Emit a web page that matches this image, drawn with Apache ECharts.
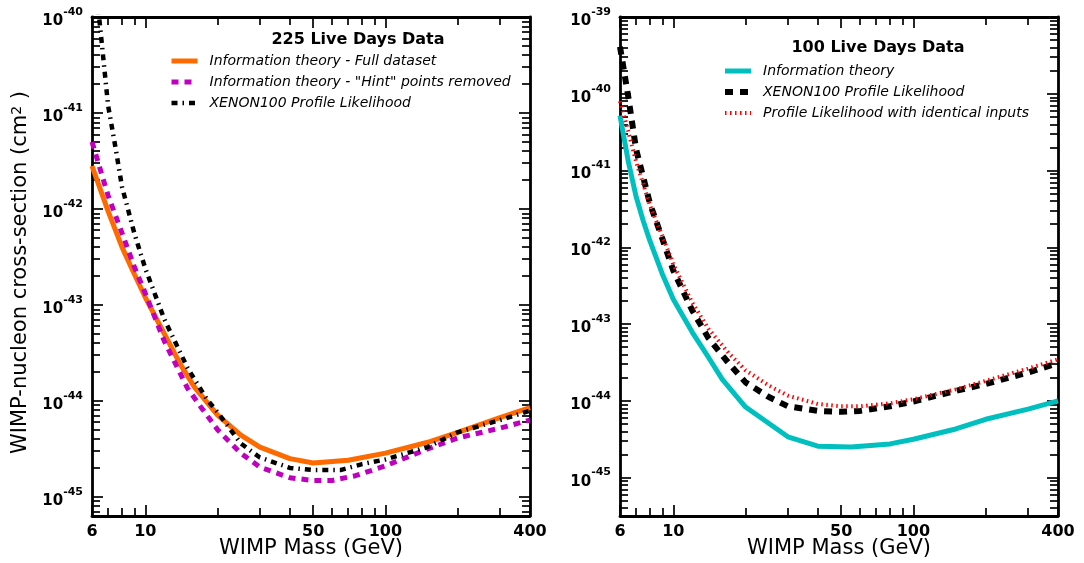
<!DOCTYPE html>
<html><head><meta charset="utf-8">
<script src="https://cdn.jsdelivr.net/npm/echarts@6/dist/echarts.min.js"></script>
<style>html,body{margin:0;padding:0;background:#fff}#c{width:1084px;height:563px}</style>
</head><body><div id="c"></div><script>
// ---- tick labels ----
const massMajorTicks = [6, 10, 50, 100, 400];
const massMinorTicks = [7, 8, 9, 20, 30, 40, 60, 70, 80, 90, 200, 300];
const leftDecades = [1e-45, 1e-44, 1e-43, 1e-42, 1e-41, 1e-40];
const rightDecades = [1e-45, 1e-44, 1e-43, 1e-42, 1e-41, 1e-40, 1e-39];

// ---- left panel: 225 live days ----
const massOrange = [6, 7, 8, 9, 10, 12, 14, 16, 20, 25, 30, 40, 50, 70, 100, 150, 200, 300, 400];
const sigmaOrange = [2.8e-42, 9.5e-43, 4.0e-43, 2.1e-43, 1.2e-43, 5.0e-44, 2.4e-44, 1.4e-44, 7.1e-45, 4.4e-45, 3.3e-45, 2.5e-45, 2.25e-45, 2.4e-45, 2.85e-45, 3.7e-45, 4.7e-45, 6.7e-45, 8.5e-45];

const massMagenta = [6, 7, 8, 9, 10, 12, 15, 17, 20, 25, 30, 40, 50, 60, 75, 100, 150, 200, 300, 400];
const sigmaMagenta = [5.0e-42, 1.38e-42, 5.6e-43, 2.5e-43, 1.32e-43, 4.2e-44, 1.35e-44, 8.7e-45, 5.0e-45, 2.85e-45, 2.04e-45, 1.58e-45, 1.48e-45, 1.48e-45, 1.66e-45, 2.1e-45, 3.16e-45, 4.1e-45, 5.2e-45, 6.3e-45];

const massXenonL = [6, 6.5, 7, 7.5, 8, 9, 10, 12, 15, 18, 20, 25, 30, 40, 50, 65, 80, 100, 150, 200, 300, 400];
const sigmaXenonL = [5e-40, 7.5e-41, 1.2e-41, 4.5e-42, 1.7e-42, 5.6e-43, 2.4e-43, 7.1e-44, 2.2e-44, 1.05e-44, 7.6e-45, 3.6e-45, 2.57e-45, 2.0e-45, 1.9e-45, 1.9e-45, 2.19e-45, 2.45e-45, 3.3e-45, 4.7e-45, 6.3e-45, 7.9e-45];

// ---- right panel: 100 live days ----
const massCyan = [6, 6.5, 7, 7.5, 8, 9, 10, 12, 14, 16, 20, 30, 40, 55, 80, 100, 150, 200, 300, 400];
const sigmaCyan = [5.2e-41, 1.3e-41, 4.6e-42, 2.2e-42, 1.2e-42, 4.5e-43, 2.1e-43, 7.8e-44, 3.7e-44, 1.9e-44, 8.3e-45, 3.4e-45, 2.57e-45, 2.5e-45, 2.75e-45, 3.16e-45, 4.3e-45, 5.75e-45, 7.8e-45, 1.0e-44];

const massXenonR = [6, 6.5, 7, 8, 9, 10, 12, 14, 17, 20, 25, 30, 40, 50, 60, 80, 100, 150, 200, 300, 400];
const sigmaXenonR = [4.1e-40, 9.0e-41, 1.9e-41, 3.7e-42, 1.3e-42, 5.0e-43, 1.5e-43, 6.6e-44, 3.1e-44, 1.74e-44, 1.12e-44, 8.5e-45, 7.4e-45, 7.2e-45, 7.4e-45, 8.5e-45, 9.8e-45, 1.35e-44, 1.66e-44, 2.34e-44, 3.1e-44];

const massIdent = [6, 6.5, 7, 8, 9, 10, 12, 14, 17, 20, 25, 30, 40, 50, 60, 80, 100, 150, 200, 300, 400];
const sigmaIdent = [8.0e-41, 3.2e-41, 1.3e-41, 3.5e-42, 1.4e-42, 6.0e-43, 1.9e-43, 8.7e-44, 4.2e-44, 2.5e-44, 1.58e-44, 1.17e-44, 9.1e-45, 8.5e-45, 8.5e-45, 9.3e-45, 1.05e-44, 1.41e-44, 1.82e-44, 2.63e-44, 3.47e-44];

// The y axes work in units of 1e-45 cm^2 to stay clear of floating-point rounding of tiny numbers.
const UNIT_EXP = 45;
const toUnit = v => v * Math.pow(10, UNIT_EXP);

const FONT = 'DejaVu Sans';
const C_ORANGE = '#ff6a00', C_MAG = '#bf00bf', C_CYAN = '#00bfbf', C_RED = '#ff0000';
const FRAME_W = 2.8, TICK_W = 1.7, MAJOR_LEN = 11, MINOR_LEN = 8;

function xAxes(gi) {
  const base = { type: 'log', logBase: 10, min: 6, max: 400, gridIndex: gi, splitLine: { show: false } };
  const line = { show: true, onZero: false, lineStyle: { color: '#000', width: FRAME_W } };
  const noLine = { show: false, onZero: false };
  return [
    Object.assign({}, base, {
      position: 'bottom', axisLine: line,
      axisTick: { show: true, inside: true, length: MAJOR_LEN, customValues: massMajorTicks, lineStyle: { color: '#000', width: TICK_W } },
      axisLabel: { show: true, customValues: massMajorTicks, margin: 8, fontSize: 16, fontWeight: 'bold', fontFamily: FONT, color: '#000', formatter: v => String(Math.round(v)) },
      name: 'WIMP Mass (GeV)', nameLocation: 'middle', nameGap: 22, nameMoveOverlap: false,
      nameTextStyle: { fontSize: 21, fontFamily: FONT, color: '#000' }
    }),
    Object.assign({}, base, {
      position: 'bottom', axisLine: noLine,
      axisTick: { show: true, inside: true, length: MINOR_LEN, customValues: massMinorTicks, lineStyle: { color: '#000', width: TICK_W } },
      axisLabel: { show: false }
    }),
    Object.assign({}, base, {
      position: 'top', axisLine: line,
      axisTick: { show: true, inside: true, length: MAJOR_LEN, customValues: massMajorTicks, lineStyle: { color: '#000', width: TICK_W } },
      axisLabel: { show: false }
    }),
    Object.assign({}, base, {
      position: 'top', axisLine: noLine,
      axisTick: { show: true, inside: true, length: MINOR_LEN, customValues: massMinorTicks, lineStyle: { color: '#000', width: TICK_W } },
      axisLabel: { show: false }
    })
  ];
}

function yAxes(gi, minExp, maxExp, decades, withName) {
  const lo = minExp + UNIT_EXP, hi = maxExp + UNIT_EXP;
  const base = { type: 'log', logBase: 10, min: Math.pow(10, lo), max: Math.pow(10, hi), gridIndex: gi, splitLine: { show: false } };
  const line = { show: true, onZero: false, lineStyle: { color: '#000', width: FRAME_W } };
  const noLine = { show: false, onZero: false };
  const majors = decades.map(v => Math.pow(10, Math.round(Math.log10(v)) + UNIT_EXP));
  const minors = [];
  for (let d = Math.floor(lo); d < Math.ceil(hi); d++) {
    for (let k = 2; k <= 9; k++) {
      const v = k * Math.pow(10, d);
      if (v > base.min && v < base.max) minors.push(v);
    }
  }
  const main = Object.assign({}, base, {
    position: 'left', axisLine: line,
    axisTick: { show: true, inside: true, length: MAJOR_LEN, customValues: majors, lineStyle: { color: '#000', width: TICK_W } },
    axisLabel: {
      show: true, customValues: majors, margin: 9,
      formatter: v => '{b|10}{s|' + (Math.round(Math.log10(v)) - UNIT_EXP) + '}',
      rich: {
        b: { fontSize: 15, fontWeight: 'bold', fontFamily: FONT, color: '#000', padding: [8, 0, 0, 0] },
        s: { fontSize: 11, fontWeight: 'bold', fontFamily: FONT, color: '#000', verticalAlign: 'top', padding: [1, 0, 0, 0] }
      }
    }
  });
  if (withName) {
    Object.assign(main, {
      name: 'WIMP-nucleon cross-section (cm{sup|2} )', nameLocation: 'middle', nameGap: 61,
      nameTextStyle: { fontSize: 21, fontFamily: FONT, color: '#000', padding: [0, 12, 0, 0],
        rich: { sup: { fontSize: 14, fontFamily: FONT, color: '#000', verticalAlign: 'top' } } }
    });
  }
  return [
    main,
    Object.assign({}, base, {
      position: 'left', axisLine: noLine,
      axisTick: { show: true, inside: true, length: MINOR_LEN, customValues: minors, lineStyle: { color: '#000', width: TICK_W } },
      axisLabel: { show: false }
    }),
    Object.assign({}, base, {
      position: 'right', axisLine: line,
      axisTick: { show: true, inside: true, length: MAJOR_LEN, customValues: majors, lineStyle: { color: '#000', width: TICK_W } },
      axisLabel: { show: false }
    }),
    Object.assign({}, base, {
      position: 'right', axisLine: noLine,
      axisTick: { show: true, inside: true, length: MINOR_LEN, customValues: minors, lineStyle: { color: '#000', width: TICK_W } },
      axisLabel: { show: false }
    })
  ];
}

function pairs(xs, ys) { return xs.map((x, i) => [x, toUnit(ys[i])]); }

function lineSeries(name, xs, ys, gi, color, width, dash) {
  return {
    type: 'line', name: name, data: pairs(xs, ys),
    xAxisIndex: gi * 4, yAxisIndex: gi * 4,
    symbol: 'none', showSymbol: false, smooth: false, clip: true,
    lineStyle: { color: color, width: width, type: dash || 'solid', cap: 'butt' },
    itemStyle: { color: color },
    emphasis: { disabled: true }
  };
}

const S1 = 'Information theory - Full dataset';
const S2 = 'Information theory - "Hint" points removed';
const S3 = 'XENON100 Profile Likelihood';
const S4 = 'Information theory';
const S5 = 'XENON100 Profile Likelihood ';
const S6 = 'Profile Likelihood with identical inputs';

const dashMag = [7, 6];
const dashXL = [6, 5, 1.5, 5];
const dashXR = [8, 7];
const dashRed = [1.5, 3.5];

const legendText = { fontSize: 14, fontStyle: 'italic', fontFamily: FONT, color: '#000', padding: [0, 0, 0, 7] };
const hiddenSymbol = { color: 'rgba(0,0,0,0)', borderWidth: 0, opacity: 0 };

const chart = echarts.init(document.getElementById('c'), null, { renderer: 'canvas' });
chart.setOption({
  animation: false,
  backgroundColor: '#fff',
  grid: [
    { left: 92, top: 17, width: 438, height: 499, outerBoundsMode: 'none', containLabel: false },
    { left: 620, top: 17, width: 438, height: 499, outerBoundsMode: 'none', containLabel: false }
  ],
  xAxis: [].concat(xAxes(0), xAxes(1)),
  yAxis: [].concat(yAxes(0, -45.2, -40, leftDecades, true), yAxes(1, -45.5, -39, rightDecades, false)),
  legend: [
    {
      left: 169, top: 54, padding: 0, orient: 'vertical', itemWidth: 26, itemHeight: 14, itemGap: 7,
      selectedMode: false, textStyle: legendText,
      data: [
        { name: S1, itemStyle: hiddenSymbol, lineStyle: { width: 5, type: 'solid', color: C_ORANGE } },
        { name: S2, itemStyle: hiddenSymbol, lineStyle: { width: 5, type: dashMag, color: C_MAG } },
        { name: S3, itemStyle: hiddenSymbol, lineStyle: { width: 4.5, type: dashXL, color: '#000' } }
      ]
    },
    {
      left: 722, top: 64, padding: 0, orient: 'vertical', itemWidth: 26, itemHeight: 14, itemGap: 7,
      selectedMode: false, textStyle: legendText,
      data: [
        { name: S4, itemStyle: hiddenSymbol, lineStyle: { width: 5, type: 'solid', color: C_CYAN } },
        { name: S5, itemStyle: hiddenSymbol, lineStyle: { width: 6, type: dashXR, color: '#000' } },
        { name: S6, itemStyle: hiddenSymbol, lineStyle: { width: 4, type: dashRed, color: C_RED } }
      ]
    }
  ],
  graphic: [
    { type: 'text', x: 358, y: 40, style: { text: '225 Live Days Data', font: 'bold 16px "DejaVu Sans"', fill: '#000', textAlign: 'center', textVerticalAlign: 'middle' } },
    { type: 'text', x: 878, y: 48, style: { text: '100 Live Days Data', font: 'bold 16px "DejaVu Sans"', fill: '#000', textAlign: 'center', textVerticalAlign: 'middle' } }
  ],
  series: [
    lineSeries(S1, massOrange, sigmaOrange, 0, C_ORANGE, 5),
    lineSeries(S2, massMagenta, sigmaMagenta, 0, C_MAG, 5, dashMag),
    lineSeries(S3, massXenonL, sigmaXenonL, 0, '#000', 4.5, dashXL),
    lineSeries(S4, massCyan, sigmaCyan, 1, C_CYAN, 5),
    lineSeries(S5, massXenonR, sigmaXenonR, 1, '#000', 6, dashXR),
    lineSeries(S6, massIdent, sigmaIdent, 1, C_RED, 4, dashRed)
  ]
});
</script></body></html>
